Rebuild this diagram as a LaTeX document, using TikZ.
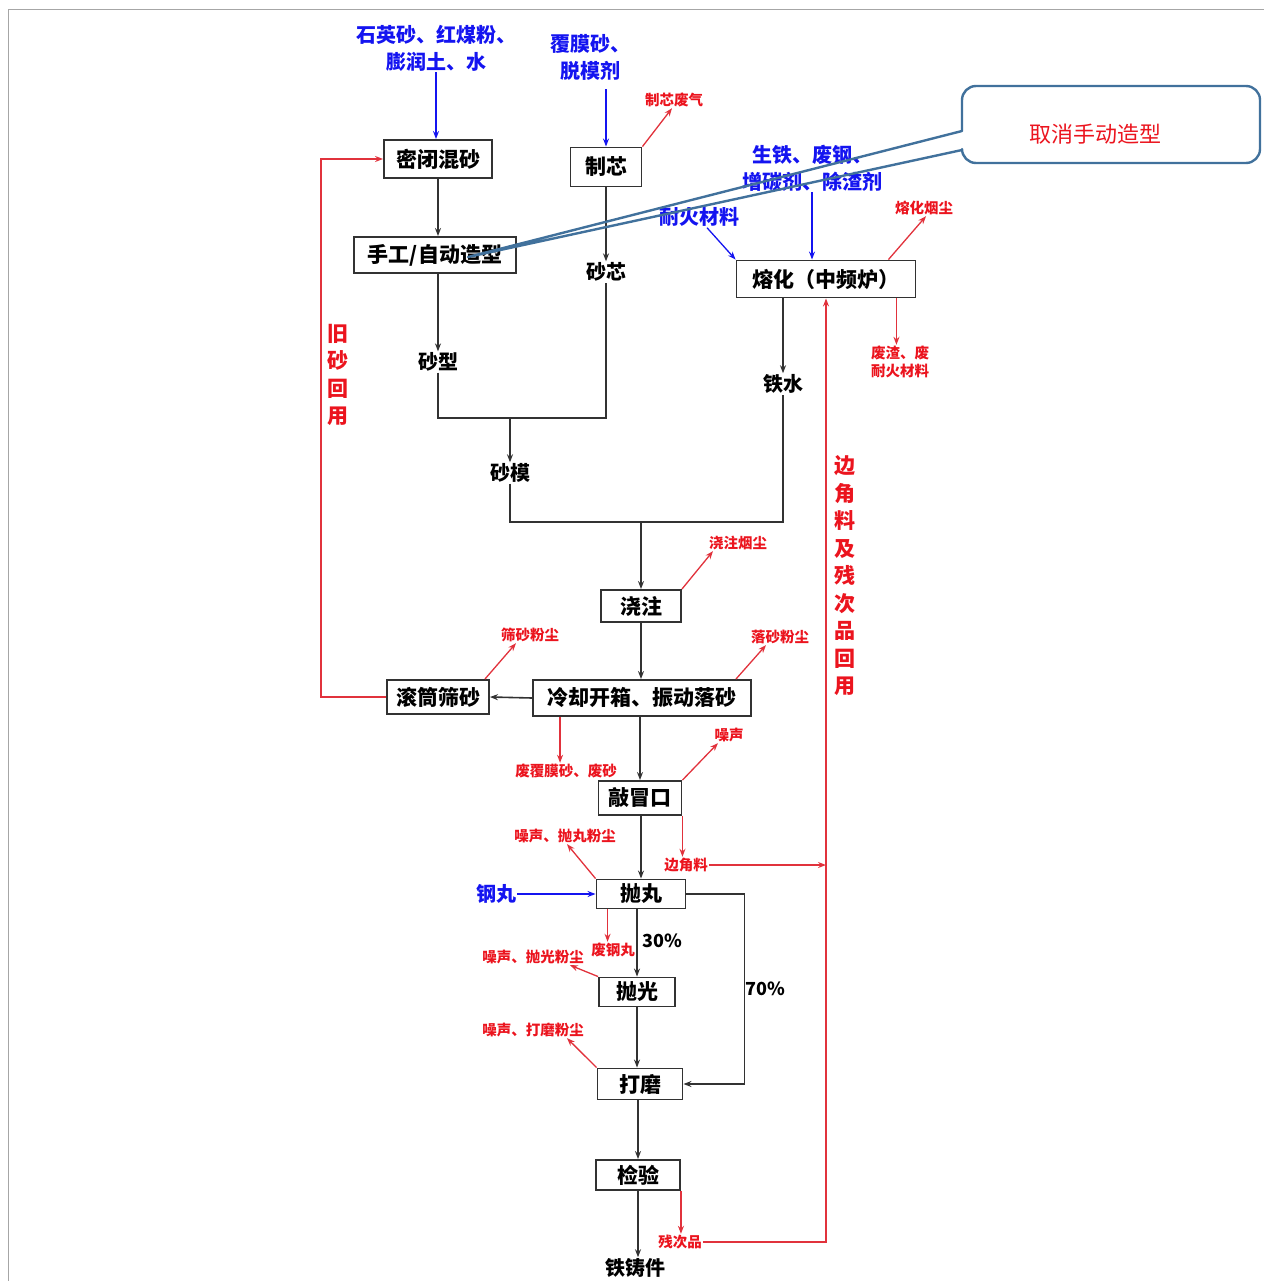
\documentclass[tikz,border=0pt]{standalone}
\usepackage{fontspec}
\setmainfont{Noto Sans CJK SC}[BoldFont={Noto Sans CJK SC Black}]
\usetikzlibrary{arrows.meta,calc}
\definecolor{inkblue}{RGB}{20,20,240}
\definecolor{inkred}{RGB}{235,20,30}
\definecolor{lnred}{RGB}{225,50,60}
\definecolor{lngray}{RGB}{50,50,50}
\definecolor{callblue}{RGB}{65,113,156}

\begin{document}
\begin{tikzpicture}[x=1pt,y=-1pt,
  every node/.style={inner sep=1pt},
  box/.style={draw=lngray, line width=1.9pt, fill=white, inner sep=0pt,
    font=\fontsize{21}{25}\selectfont\bfseries},
  plain/.style={font=\fontsize{20}{25}\selectfont\bfseries},
  pct/.style={font=\fontsize{18}{22}\selectfont\bfseries},
  feed/.style={text=inkblue, align=center, font=\fontsize{20}{27}\selectfont\bfseries},
  waste/.style={text=inkred, align=center, font=\fontsize{14.5}{18}\selectfont\bfseries},
  vlabel/.style={text=inkred, align=center, font=\fontsize{21}{27.5}\selectfont\bfseries},
  tip/.style={-{Stealth[length=8pt,width=6pt]}},
  line/.style={draw=lngray, line width=1.6pt},
  flow/.style={line, tip},
  rline/.style={draw=lnred, line width=1.3pt},
  rflow/.style={rline, tip},
  bflow/.style={draw=inkblue, line width=1.3pt, tip},
  callout/.style={draw=callblue, line width=2.4pt, line cap=round, line join=round}
]
\useasboundingbox (0,0) rectangle (1264,1281);

% page frame
\draw[gray!70, line width=1pt] (8,1281) -- (8,10) -- (1264,10);

% process boxes
\node[box, minimum width=108, minimum height=38] (mix)    at (438,159)  {密闭混砂};
\node[box, minimum width=71,  minimum height=39] (core)   at (606,167)  {制芯};
\node[box, minimum width=162, minimum height=36] (mold)   at (435,255)  {手工/自动造型};
\node[box, minimum width=179, minimum height=37] (melt)   at (826,279)  {熔化（中频炉）};
\node[box, minimum width=80,  minimum height=32] (pour)   at (641,606)  {浇注};
\node[box, minimum width=218, minimum height=36] (cool)   at (642,698)  {冷却开箱、振动落砂};
\node[box, minimum width=102, minimum height=34] (screen) at (438,697)  {滚筒筛砂};
\node[box, minimum width=83,  minimum height=34] (knock)  at (640,798)  {敲冒口};
\node[box, minimum width=89,  minimum height=29] (shot)   at (641,894)  {抛丸};
\node[box, minimum width=76,  minimum height=29] (polish) at (637,992)  {抛光};
\node[box, minimum width=85,  minimum height=31] (grind)  at (640,1084) {打磨};
\node[box, minimum width=84,  minimum height=30] (check)  at (638,1175) {检验};

% intermediate products
\node[plain] (sc) at (606,272)  {砂芯};
\node[plain] (sx) at (438,362)  {砂型};
\node[plain] (sm) at (510,473)  {砂模};
\node[plain] (tw) at (783,384)  {铁水};
\node[plain] (tz) at (635,1268) {铁铸件};
\node[pct] (p30) at (662,941) {30\%};
\node[pct] (p70) at (765,989) {70\%};

% raw material inputs
\node[feed] (sandin) at (436,48)  {石英砂、红煤粉、\\膨润土、水};
\node[feed] (corein) at (590,57)  {覆膜砂、\\脱模剂};
\node[feed] (ironin) at (812,168) {生铁、废钢、\\增碳剂、除渣剂};
\node[feed] (refin)  at (699,217) {耐火材料};
\node[feed] (shotin) at (496,894) {钢丸};

% emissions and wastes
\node[waste] (ex1) at (674,100)  {制芯废气};
\node[waste] (ex6) at (924,208)  {熔化烟尘};
\node[waste] (fz)  at (900,362)  {废渣、废\\耐火材料};
\node[waste] (ex2) at (738,543)  {浇注烟尘};
\node[waste] (ex3) at (530,635)  {筛砂粉尘};
\node[waste] (ex4) at (780,637)  {落砂粉尘};
\node[waste] (ex5) at (729,735)  {噪声};
\node[waste] (ws)  at (566,771)  {废覆膜砂、废砂};
\node[waste] (n1)  at (565,836)  {噪声、抛丸粉尘};
\node[waste] (bj)  at (686,865)  {边角料};
\node[waste] (wg)  at (613,950)  {废钢丸};
\node[waste] (n2)  at (533,957)  {噪声、抛光粉尘};
\node[waste] (n3)  at (533,1030) {噪声、打磨粉尘};
\node[waste] (cp)  at (680,1242) {残次品};

% recycling labels
\node[vlabel] (old) at (338,375) {旧\\砂\\回\\用};
\node[vlabel] (rec) at (845,576) {边\\角\\料\\及\\残\\次\\品\\回\\用};

% sand line
\draw[bflow] (sandin.south) -- (sandin.south |- mix.north);
\draw[bflow] ([yshift=-8]corein.south -| core.north) -- (core.north);
\draw[rflow] (core.north east) -- ([xshift=-2]ex1.south);
\draw[flow] (mix.south) -- (mix.south |- mold.north);
\draw[flow] (core.south) -- (core.south |- sc.north);
\draw[flow] (mold.south -| sx) -- (sx.north);
\coordinate (j1) at (510,418);
\draw[line] (sx.south) |- (j1) -| (sc.south);
\draw[flow] (j1) -- (sm.north);

% melting line
\draw[bflow] (ironin.south) -- (ironin.south |- melt.north);
\draw[bflow] ([xshift=8]refin.south) -- (melt.north west);
\draw[rflow] ([xshift=-28]melt.north east) -- ([xshift=2]ex6.south);
\coordinate (c3) at ([xshift=-20]melt.south east);
\draw[rflow] (c3) -- (c3 |- fz.north);
\draw[flow] (melt.south -| tw) -- (tw.north);

% pouring and shake-out
\coordinate (j2) at (641,522);
\draw[line] (sm.south) |- (j2) -| (tw.south);
\draw[flow] (j2) -- (pour.north);
\draw[rflow] (pour.north east) -- ([xshift=-25]ex2.south);
\draw[flow] (pour.south) -- (pour.south |- cool.north);
\draw[flow] (cool.west) -- (screen.east);
\draw[rflow] ([xshift=-5]screen.north east) -- ([xshift=-14]ex3.south);
\draw[rflow] ([xshift=-16]cool.north east) -- ([xshift=-14]ex4.south);
\draw[rflow] (screen.west) -- ++(-65,0) |- (mix.west);
\coordinate (c1) at ([xshift=28]cool.south west);
\draw[rflow] (c1) -- (c1 |- ws.north);

% finishing
\draw[flow] (cool.south -| knock) -- (knock.north);
\draw[rflow] (knock.north east) -- ([xshift=-11]ex5.south);
\draw[rflow] (knock.south east) -- (knock.south east |- bj.north);
\draw[rflow] (bj.east) -- (bj.east -| melt.south);
\draw[rflow] (cp.east) -| (melt.south);
\draw[flow] (knock.south -| shot) -- (shot.north);
\draw[rflow] (shot.north west) -- ([xshift=2]n1.south);
\draw[bflow] (shotin.east) -- (shotin.east -| shot.west);
\draw[flow] (shot.east) -- ++(58,0) |- (grind.east);
\draw[flow] (polish.north |- shot.south) -- (polish.north);
\coordinate (c2) at ([xshift=12]shot.south west);
\draw[rflow] (c2) -- (c2 |- wg.north);
\draw[rflow] (polish.north west) -- ([xshift=-15]n2.south east);
\draw[flow] (polish.south) -- (polish.south |- grind.north);
\draw[rflow] (grind.north west) -- ([xshift=-18]n3.south east);
\draw[flow] (grind.south -| check) -- (check.north);
\draw[flow] (check.south) -- (check.south |- tz.north);
\draw[rflow] (check.south east) -- (check.south east |- cp.north);

% remark callout
\coordinate (ctip) at ($(mold.center)+(33,2)$);
\draw[callout] (962,150) -- (ctip) -- (962,131) [rounded corners=14] -- (962,86)
  -- (1260,86) -- (1260,163) -- (962,163) -- (962,150);
\node[text=inkred, font=\fontsize{22}{26}\selectfont] (note) at (1095,134) {取消手动造型};
\end{tikzpicture}
\end{document}
